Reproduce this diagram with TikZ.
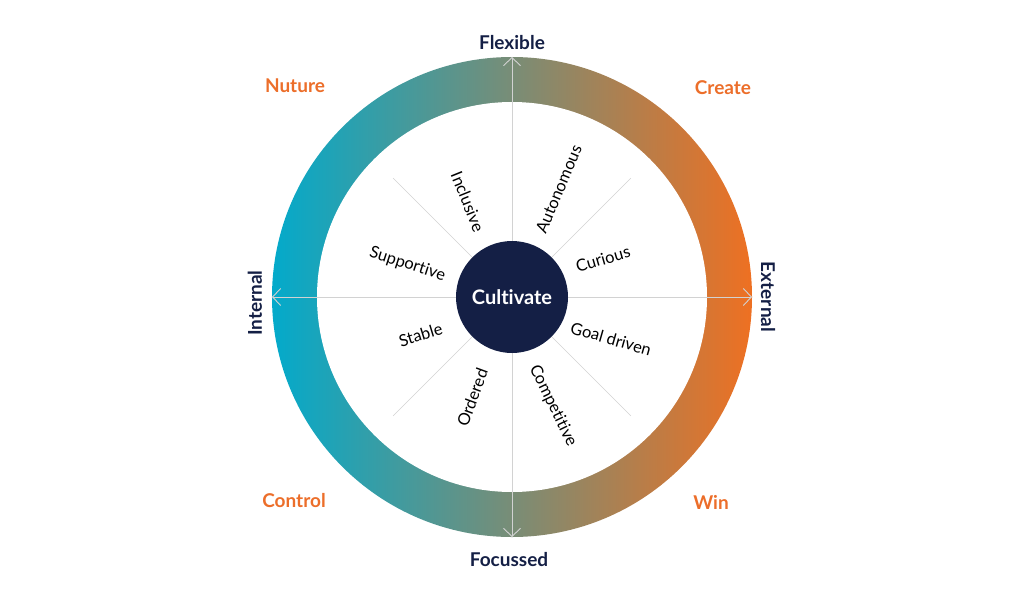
\documentclass[tikz,border=0pt]{standalone}
\usepackage{fontspec}
\setmainfont{Lato}[Ligatures={NoCommon,NoRare}]
\usetikzlibrary{arrows.meta,positioning}

\definecolor{navy}{HTML}{141F45}
\definecolor{warm}{HTML}{EC6E2A}
\definecolor{cool}{HTML}{03AACB}
\definecolor{fire}{HTML}{EE7022}
\definecolor{rule}{HTML}{D2D2D2}

\begin{document}
\begin{tikzpicture}[x=1pt,y=1pt,>={Straight Barb[length=8pt,width=17pt]}]
        \tikzstyle{axis line}=[draw=rule,line width=0.9pt]
        \tikzstyle{spoke}=[draw=rule,line width=0.7pt]
        \tikzstyle{pole}=[font=\bfseries\fontsize{19}{19}\selectfont,text=navy]
        \tikzstyle{quad}=[font=\bfseries\fontsize{19}{19}\selectfont,text=warm]
        \tikzstyle{trait}=[font=\fontsize{16.5}{16.5}\selectfont,text=black,inner sep=1pt]
        \useasboundingbox (-512,-303) rectangle (512,297);

        % ring
        \shade[left color=cool,right color=fire] (0,0) circle (240pt);
        \fill[white] (0,0) circle (195pt);

        \coordinate (O)  at (0,0);
        \coordinate (N)  at (90:240);
        \coordinate (S)  at (270:240);
        \coordinate (W)  at (180:240);
        \coordinate (E)  at (0:240);
        \coordinate (NE) at (45:168);
        \coordinate (NW) at (135:168);
        \coordinate (SW) at (225:168);
        \coordinate (SE) at (315:168);

        \draw[axis line,<->] (W) -- (E);
        \draw[axis line,<->] (S) -- (N);
        \draw[spoke] (O) -- (NE);
        \draw[spoke] (O) -- (NW);
        \draw[spoke] (O) -- (SW);
        \draw[spoke] (O) -- (SE);

        \node[circle,fill=navy,minimum size=112pt,text=white,
              font=\bfseries\fontsize{20}{20}\selectfont] (cult) at (O) {Cultivate};

        % poles
        \node[pole]             (flex) at (0,254)   {Flexible};
        \node[pole]             (foc)  at (-3,-263) {Focussed};
        \node[pole,rotate=90]   (int)  at (-257,-6) {Internal};
        \node[pole,rotate=-90]  (ext)  at (256,0)   {External};

        % quadrants
        \node[quad] (nut)  at (-217,211)  {Nuture};
        \node[quad] (cre)  at (211,209)   {Create};
        \node[quad] (ctl)  at (-218,-204) {Control};
        \node[quad] (win)  at (199,-205)  {Win};

        % traits
        \node[trait,anchor=east,rotate=-68] (incl) at (-32,65)  {Inclusive};
        \node[trait,anchor=west,rotate=67]  (auto) at (28,64)   {Autonomous};
        \node[trait,anchor=east,rotate=-18] (supp) at (-66,20)  {Supportive};
        \node[trait,anchor=west,rotate=16]  (cur)  at (63,30)   {Curious};
        \node[trait,anchor=east,rotate=17]  (stab) at (-69,-31) {Stable};
        \node[trait,anchor=west,rotate=-16] (goal) at (58,-30)  {Goal driven};
        \node[trait,anchor=east,rotate=70]  (ord)  at (-29,-71) {Ordered};
        \node[trait,anchor=west,rotate=-64] (comp) at (21,-68)  {Competitive};
\end{tikzpicture}
\end{document}
